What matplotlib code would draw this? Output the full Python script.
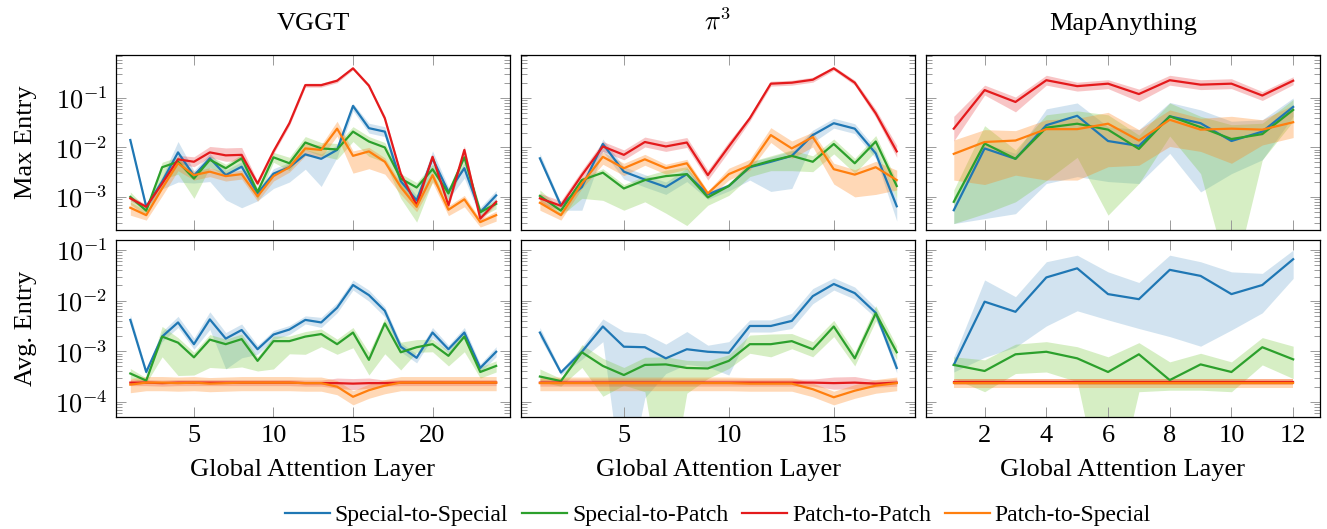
import matplotlib.pyplot as plt
import numpy as np
from matplotlib.ticker import FixedLocator, FuncFormatter, LogLocator, NullFormatter

plt.rcParams['font.family'] = ['Liberation Serif', 'DejaVu Serif']
plt.rcParams['mathtext.fontset'] = 'cm'

# series order: Special-to-Special, Special-to-Patch, Patch-to-Patch, Patch-to-Special
names = ['Special-to-Special', 'Special-to-Patch', 'Patch-to-Patch', 'Patch-to-Special']
line_colors = ['#1f77b4', '#2ca02c', '#e41a1c', '#ff7f0e']
fill_colors = ['#1f77b4', '#78c83c', '#e41a1c', '#ff7f0e']
fill_alpha = [0.2, 0.3, 0.25, 0.3]

vggt_layers = list(range(1, 25))
pi3_layers = list(range(1, 19))
mapany_layers = list(range(1, 13))

# all values are log10 of the entry; *_up / *_dn = band width above / below the line (decades)
# ---- VGGT, max entry
vggt_max_ss = [-1.85, -3.20, -2.69, -2.10, -2.57, -2.22, -2.56, -2.39, -2.93, -2.53, -2.40, -2.14,
               -2.23, -2.05, -1.16, -1.61, -1.68, -2.68, -3.07, -2.22, -2.90, -2.42, -3.31, -2.97]
vggt_max_ss_up = [0.02, 0.05, 0.1, 0.22, 0.1, 0.1, 0.1, 0.1, 0.05, 0.1, 0.1, 0.1,
                  0.1, 0.1, 0.05, 0.1, 0.1, 0.1, 0.1, 0.15, 0.1, 0.1, 0.1, 0.1]
vggt_max_ss_dn = [0.02, 0.05, 0.15, 0.6, 0.15, 0.47, 0.5, 0.83, 0.15, 0.3, 0.3, 0.3,
                  0.56, 0.15, 0.1, 0.1, 0.1, 0.15, 0.1, 0.25, 0.15, 0.2, 0.1, 0.15]
vggt_max_sp = [-3.00, -3.28, -2.40, -2.29, -2.63, -2.25, -2.42, -2.22, -2.90, -2.20, -2.32, -1.90,
               -2.02, -2.04, -1.68, -1.88, -2.00, -2.63, -2.81, -2.44, -2.93, -2.20, -3.31, -3.14]
vggt_max_sp_up = [0.1, 0.05, 0.1, 0.1, 0.1, 0.08, 0.08, 0.08, 0.08, 0.1, 0.12, 0.12,
                  0.12, 0.12, 0.1, 0.1, 0.1, 0.1, 0.1, 0.1, 0.1, 0.1, 0.08, 0.08]
vggt_max_sp_dn = [0.15, 0.1, 0.25, 0.25, 0.4, 0.15, 0.15, 0.15, 0.15, 0.1, 0.15, 0.15,
                  0.15, 0.2, 0.2, 0.3, 0.3, 0.4, 0.7, 0.25, 0.15, 0.15, 0.1, 0.1]
vggt_max_pp = [-3.03, -3.20, -2.73, -2.24, -2.29, -2.10, -2.16, -2.15, -2.73, -2.08, -1.51, -0.74,
               -0.74, -0.65, -0.40, -0.75, -1.41, -2.53, -3.17, -2.19, -3.17, -2.05, -3.44, -3.10]
vggt_max_pp_up = [0.05, 0.05, 0.05, 0.08, 0.1, 0.12, 0.15, 0.15, 0.05, 0.05, 0.05, 0.04,
                  0.04, 0.04, 0.03, 0.04, 0.05, 0.05, 0.05, 0.05, 0.05, 0.08, 0.05, 0.05]
vggt_max_pp_dn = [0.05, 0.05, 0.05, 0.08, 0.1, 0.1, 0.12, 0.12, 0.05, 0.05, 0.05, 0.04,
                  0.04, 0.04, 0.03, 0.04, 0.05, 0.05, 0.05, 0.05, 0.05, 0.08, 0.05, 0.05]
vggt_max_ps = [-3.22, -3.37, -2.83, -2.32, -2.56, -2.49, -2.58, -2.54, -2.99, -2.58, -2.40, -2.02,
               -2.05, -1.62, -2.17, -2.08, -2.29, -2.80, -3.20, -2.56, -3.26, -3.05, -3.51, -3.37]
vggt_max_ps_up = [0.12, 0.08, 0.1, 0.1, 0.08, 0.08, 0.08, 0.08, 0.08, 0.08, 0.08, 0.1,
                  0.1, 0.15, 0.1, 0.08, 0.08, 0.08, 0.08, 0.08, 0.08, 0.08, 0.06, 0.08]
vggt_max_ps_dn = [0.15, 0.1, 0.15, 0.15, 0.1, 0.1, 0.1, 0.1, 0.1, 0.1, 0.1, 0.15,
                  0.15, 0.15, 0.35, 0.35, 0.25, 0.15, 0.1, 0.15, 0.12, 0.15, 0.1, 0.12]

# ---- VGGT, avg entry
vggt_avg_ss = [-2.38, -3.41, -2.71, -2.43, -2.86, -2.37, -2.75, -2.58, -2.96, -2.67, -2.57, -2.38,
               -2.43, -2.14, -1.69, -1.89, -2.20, -2.91, -3.13, -2.63, -2.96, -2.63, -3.33, -3.01]
vggt_avg_ss_up = [0.1, 0.05, 0.1, 0.12, 0.12, 0.15, 0.12, 0.12, 0.08, 0.08, 0.08, 0.08,
                  0.1, 0.1, 0.1, 0.1, 0.08, 0.08, 0.08, 0.1, 0.08, 0.1, 0.08, 0.1]
vggt_avg_ss_dn = [0.05, 0.05, 0.1, 0.1, 0.1, 0.2, 0.6, 0.55, 0.1, 0.1, 0.1, 0.08,
                  0.1, 0.1, 0.1, 0.12, 0.12, 0.1, 0.1, 0.1, 0.08, 0.1, 0.08, 0.1]
vggt_avg_sp = [-3.44, -3.58, -2.71, -2.83, -3.12, -2.77, -2.86, -2.76, -3.19, -2.80, -2.80, -2.71,
               -2.66, -2.86, -2.63, -3.17, -2.45, -3.02, -2.92, -2.86, -3.09, -2.71, -3.41, -3.29]
vggt_avg_sp_up = [0.1, 0.05, 0.2, 0.1, 0.1, 0.1, 0.1, 0.1, 0.08, 0.1, 0.1, 0.1,
                  0.1, 0.1, 0.1, 0.15, 0.1, 0.2, 0.15, 0.1, 0.1, 0.1, 0.1, 0.1]
vggt_avg_sp_dn = [0.1, 0.05, 0.4, 0.65, 0.35, 0.55, 0.48, 0.55, 0.2, 0.55, 0.25, 0.35,
                  0.25, 0.2, 0.3, 0.3, 0.6, 0.35, 0.1, 0.15, 0.2, 0.3, 0.12, 0.12]
vggt_avg_pp = [-3.62, -3.62, -3.63, -3.62, -3.62, -3.62, -3.62, -3.62, -3.62, -3.62, -3.62, -3.63,
               -3.63, -3.63, -3.64, -3.63, -3.63, -3.62, -3.62, -3.62, -3.62, -3.62, -3.62, -3.62]
vggt_avg_pp_up = [0.06, 0.06, 0.06, 0.06, 0.06, 0.06, 0.06, 0.06, 0.06, 0.06, 0.06, 0.06,
                  0.06, 0.1, 0.1, 0.1, 0.06, 0.06, 0.06, 0.06, 0.06, 0.06, 0.06, 0.06]
vggt_avg_pp_dn = [0.06, 0.06, 0.06, 0.06, 0.06, 0.06, 0.06, 0.06, 0.06, 0.06, 0.06, 0.06,
                  0.06, 0.1, 0.12, 0.1, 0.06, 0.06, 0.06, 0.06, 0.06, 0.06, 0.06, 0.06]
vggt_avg_ps = [-3.66, -3.62, -3.62, -3.63, -3.62, -3.64, -3.63, -3.62, -3.62, -3.62, -3.62, -3.63,
               -3.63, -3.70, -3.90, -3.77, -3.68, -3.62, -3.62, -3.62, -3.62, -3.62, -3.62, -3.62]
vggt_avg_ps_up = [0.12, 0.12, 0.12, 0.12, 0.12, 0.12, 0.12, 0.12, 0.12, 0.12, 0.12, 0.12,
                  0.12, 0.12, 0.12, 0.12, 0.12, 0.12, 0.12, 0.12, 0.12, 0.12, 0.12, 0.12]
vggt_avg_ps_dn = [0.16, 0.16, 0.16, 0.16, 0.16, 0.16, 0.16, 0.16, 0.16, 0.16, 0.16, 0.16,
                  0.16, 0.16, 0.16, 0.16, 0.16, 0.16, 0.16, 0.16, 0.16, 0.16, 0.16, 0.16]

# ---- pi^3, max entry
pi3_max_ss = [-2.22, -3.17, -2.80, -1.93, -2.49, -2.65, -2.80, -2.54, -2.95, -2.78, -2.40, -2.29,
              -2.17, -1.75, -1.51, -1.62, -2.12, -3.19]
pi3_max_ss_up = [0.1, 0.05, 0.05, 0.1, 0.1, 0.1, 0.1, 0.12, 0.05, 0.05, 0.1, 0.1, 0.1, 0.1, 0.1, 0.1, 0.1, 0.15]
pi3_max_ss_dn = [0.05, 0.1, 0.47, 0.15, 0.15, 0.15, 0.15, 0.15, 0.1, 0.1, 0.26, 0.6, 0.66, 0.15, 0.1, 0.1, 0.1, 0.3]
pi3_max_sp = [-2.98, -3.28, -2.66, -2.51, -2.83, -2.66, -2.58, -2.54, -3.01, -2.78, -2.39, -2.27,
              -2.17, -2.29, -1.93, -2.32, -1.88, -2.78]
pi3_max_sp_up = [0.12, 0.05, 0.05, 0.08, 0.08, 0.08, 0.12, 0.15, 0.05, 0.05, 0.1, 0.1, 0.12, 0.12, 0.1, 0.1, 0.12, 0.1]
pi3_max_sp_dn = [0.1, 0.1, 0.37, 0.56, 0.44, 0.44, 0.75, 1.04, 0.16, 0.19, 0.2, 0.2, 0.3, 0.2, 0.2, 0.2, 0.2, 0.25]
pi3_max_pp = [-3.03, -3.18, -2.56, -1.98, -2.15, -1.89, -1.98, -1.90, -2.56, -1.98, -1.41, -0.71,
              -0.69, -0.63, -0.40, -0.69, -1.31, -2.08]
pi3_max_pp_up = [0.1, 0.1, 0.1, 0.1, 0.1, 0.1, 0.1, 0.1, 0.1, 0.1, 0.06, 0.05, 0.05, 0.05, 0.04, 0.05, 0.08, 0.12]
pi3_max_pp_dn = [0.1, 0.1, 0.1, 0.1, 0.1, 0.1, 0.1, 0.1, 0.1, 0.1, 0.06, 0.05, 0.05, 0.05, 0.04, 0.05, 0.08, 0.12]
pi3_max_ps = [-3.12, -3.37, -2.73, -2.19, -2.42, -2.24, -2.42, -2.32, -2.93, -2.54, -2.36, -1.75,
              -2.02, -1.79, -2.44, -2.55, -2.40, -2.66]
pi3_max_ps_up = [0.08, 0.05, 0.08, 0.1, 0.1, 0.1, 0.08, 0.08, 0.05, 0.12, 0.12, 0.15, 0.15, 0.1, 0.12, 0.1, 0.12, 0.2]
pi3_max_ps_dn = [0.15, 0.1, 0.1, 0.15, 0.15, 0.12, 0.12, 0.12, 0.1, 0.12, 0.1, 0.15, 0.2, 0.2, 0.3, 0.45, 0.55, 0.2]

# ---- pi^3, avg entry
pi3_avg_ss = [-2.63, -3.42, -3.01, -2.51, -2.91, -2.92, -3.14, -2.96, -3.01, -3.03, -2.50, -2.50,
              -2.40, -1.91, -1.67, -1.85, -2.24, -3.33]
pi3_avg_ss_up = [0.1, 0.05, 0.1, 0.15, 0.3, 0.27, 0.28, 0.35, 0.13, 0.22, 0.12, 0.12, 0.15, 0.15, 0.12, 0.12, 0.1, 0.1]
pi3_avg_ss_dn = [0.1, 0.05, 0.15, 0.3, 3.0, 1.0, 0.3, 0.3, 0.3, 0.44, 0.12, 0.12, 0.15, 0.15, 0.12, 0.12, 0.1, 0.1]
pi3_avg_sp = [-3.50, -3.59, -3.02, -3.29, -3.47, -3.27, -3.26, -3.33, -3.34, -3.19, -2.86, -2.86,
              -2.80, -2.96, -2.51, -3.14, -2.25, -3.02]
pi3_avg_sp_up = [0.15, 0.05, 0.15, 0.15, 0.15, 0.15, 0.15, 0.15, 0.15, 0.12, 0.18, 0.2, 0.15, 0.15, 0.12, 0.12, 0.15, 0.12]
pi3_avg_sp_dn = [0.1, 0.1, 0.3, 0.6, 0.2, 0.53, 3.0, 0.5, 0.2, 0.15, 0.18, 0.25, 0.15, 0.15, 0.2, 0.15, 0.15, 0.15]
pi3_avg_pp = [-3.62, -3.62, -3.62, -3.62, -3.62, -3.62, -3.62, -3.62, -3.62, -3.62, -3.62, -3.62,
              -3.62, -3.62, -3.63, -3.62, -3.64, -3.62]
pi3_avg_pp_up = [0.07, 0.07, 0.07, 0.07, 0.07, 0.07, 0.07, 0.07, 0.07, 0.07, 0.07, 0.07, 0.07, 0.07, 0.12, 0.12, 0.07, 0.07]
pi3_avg_pp_dn = [0.07, 0.07, 0.07, 0.07, 0.07, 0.07, 0.07, 0.07, 0.07, 0.07, 0.07, 0.07, 0.07, 0.07, 0.12, 0.12, 0.07, 0.07]
pi3_avg_ps = [-3.63, -3.63, -3.63, -3.63, -3.63, -3.63, -3.63, -3.63, -3.63, -3.63, -3.64, -3.64,
              -3.64, -3.75, -3.91, -3.78, -3.68, -3.63]
pi3_avg_ps_up = [0.12, 0.12, 0.12, 0.12, 0.12, 0.12, 0.12, 0.12, 0.12, 0.12, 0.12, 0.12, 0.12, 0.12, 0.12, 0.12, 0.12, 0.12]
pi3_avg_ps_dn = [0.15, 0.15, 0.15, 0.15, 0.15, 0.15, 0.15, 0.15, 0.15, 0.15, 0.15, 0.15, 0.15, 0.15, 0.15, 0.15, 0.15, 0.15]

# ---- MapAnything, max entry
mapany_max_ss = [-3.27, -2.02, -2.23, -1.55, -1.36, -1.87, -1.97, -1.37, -1.51, -1.87, -1.68, -1.18]
mapany_max_ss_up = [0.27, 0.10, 0.11, 0.33, 0.26, 0.29, 0.33, 0.28, 0.27, 0.40, 0.24, 0.18]
mapany_max_ss_dn = [0.27, 1.42, 1.11, 1.18, 1.23, 0.82, 0.76, 0.75, 1.39, 0.66, 0.57, 0.19]
mapany_max_sp = [-3.10, -1.92, -2.23, -1.60, -1.52, -1.64, -2.03, -1.37, -1.59, -1.83, -1.73, -1.24]
mapany_max_sp_up = [0.24, 0.36, 0.18, 0.26, 0.26, 0.30, 0.28, 0.27, 0.22, 0.29, 0.22, 0.21]
mapany_max_sp_dn = [0.44, 1.42, 0.87, 1.07, 0.68, 1.73, 0.70, 0.40, 0.94, 3.0, 0.52, 0.23]
mapany_max_pp = [-1.62, -0.84, -1.08, -0.64, -0.76, -0.71, -0.92, -0.64, -0.73, -0.71, -0.95, -0.65]
mapany_max_pp_up = [0.25, 0.1, 0.1, 0.1, 0.08, 0.08, 0.1, 0.1, 0.1, 0.1, 0.08, 0.08]
mapany_max_pp_dn = [0.25, 0.1, 0.2, 0.1, 0.1, 0.1, 0.15, 0.1, 0.1, 0.1, 0.1, 0.08]
mapany_max_ps = [-2.13, -1.89, -1.86, -1.63, -1.63, -1.52, -1.86, -1.44, -1.64, -1.62, -1.64, -1.49]
mapany_max_ps_up = [0.28, 0.25, 0.20, 0.19, 0.22, 0.23, 0.22, 0.20, 0.23, 0.25, 0.20, 0.35]
mapany_max_ps_dn = [0.53, 0.86, 0.70, 1.03, 1.03, 0.87, 0.50, 0.54, 0.44, 0.70, 0.31, 0.31]

# ---- MapAnything, avg entry
mapany_avg_ss = [-3.27, -2.02, -2.22, -1.54, -1.36, -1.87, -1.97, -1.39, -1.51, -1.87, -1.69, -1.18]
mapany_avg_ss_up = [0.16, 0.43, 0.30, 0.31, 0.26, 0.44, 0.33, 0.29, 0.28, 0.44, 0.23, 0.18]
mapany_avg_ss_dn = [0.14, 1.10, 0.70, 0.96, 0.84, 0.51, 0.58, 1.32, 1.39, 0.71, 0.55, 0.38]
mapany_avg_sp = [-3.27, -3.39, -3.06, -3.01, -3.14, -3.41, -3.06, -3.57, -3.26, -3.41, -2.92, -3.16]
mapany_avg_sp_up = [0.16, 0.22, 0.20, 0.20, 0.23, 0.30, 0.23, 0.36, 0.22, 0.20, 0.19, 0.26]
mapany_avg_sp_dn = [0.27, 0.41, 0.38, 0.40, 0.46, 3.0, 0.74, 0.20, 0.51, 0.39, 0.35, 0.38]
mapany_avg_pp = [-3.61, -3.61, -3.61, -3.61, -3.61, -3.61, -3.61, -3.61, -3.61, -3.61, -3.61, -3.61]
mapany_avg_pp_up = [0.06, 0.06, 0.06, 0.06, 0.06, 0.06, 0.06, 0.06, 0.06, 0.06, 0.06, 0.06]
mapany_avg_pp_dn = [0.06, 0.06, 0.06, 0.06, 0.06, 0.06, 0.06, 0.06, 0.06, 0.06, 0.06, 0.06]
mapany_avg_ps = [-3.62, -3.62, -3.62, -3.62, -3.62, -3.62, -3.62, -3.62, -3.62, -3.62, -3.62, -3.62]
mapany_avg_ps_up = [0.07, 0.07, 0.07, 0.07, 0.07, 0.07, 0.07, 0.07, 0.07, 0.07, 0.07, 0.07]
mapany_avg_ps_dn = [0.11, 0.11, 0.11, 0.11, 0.11, 0.11, 0.11, 0.11, 0.11, 0.11, 0.11, 0.11]

titles = ['VGGT', r'$\pi^3$', 'MapAnything']
row_labels = ['Max Entry', 'Avg. Entry']
xticks = [[5, 10, 15, 20], [5, 10, 15], [2, 4, 6, 8, 10, 12]]

panels = [
    [(vggt_layers, [(vggt_max_ss, vggt_max_ss_up, vggt_max_ss_dn), (vggt_max_sp, vggt_max_sp_up, vggt_max_sp_dn),
                    (vggt_max_pp, vggt_max_pp_up, vggt_max_pp_dn), (vggt_max_ps, vggt_max_ps_up, vggt_max_ps_dn)]),
     (pi3_layers, [(pi3_max_ss, pi3_max_ss_up, pi3_max_ss_dn), (pi3_max_sp, pi3_max_sp_up, pi3_max_sp_dn),
                   (pi3_max_pp, pi3_max_pp_up, pi3_max_pp_dn), (pi3_max_ps, pi3_max_ps_up, pi3_max_ps_dn)]),
     (mapany_layers, [(mapany_max_ss, mapany_max_ss_up, mapany_max_ss_dn), (mapany_max_sp, mapany_max_sp_up, mapany_max_sp_dn),
                      (mapany_max_pp, mapany_max_pp_up, mapany_max_pp_dn), (mapany_max_ps, mapany_max_ps_up, mapany_max_ps_dn)])],
    [(vggt_layers, [(vggt_avg_ss, vggt_avg_ss_up, vggt_avg_ss_dn), (vggt_avg_sp, vggt_avg_sp_up, vggt_avg_sp_dn),
                    (vggt_avg_pp, vggt_avg_pp_up, vggt_avg_pp_dn), (vggt_avg_ps, vggt_avg_ps_up, vggt_avg_ps_dn)]),
     (pi3_layers, [(pi3_avg_ss, pi3_avg_ss_up, pi3_avg_ss_dn), (pi3_avg_sp, pi3_avg_sp_up, pi3_avg_sp_dn),
                   (pi3_avg_pp, pi3_avg_pp_up, pi3_avg_pp_dn), (pi3_avg_ps, pi3_avg_ps_up, pi3_avg_ps_dn)]),
     (mapany_layers, [(mapany_avg_ss, mapany_avg_ss_up, mapany_avg_ss_dn), (mapany_avg_sp, mapany_avg_sp_up, mapany_avg_sp_dn),
                      (mapany_avg_pp, mapany_avg_pp_up, mapany_avg_pp_dn), (mapany_avg_ps, mapany_avg_ps_up, mapany_avg_ps_dn)])],
]

W, H = 1327, 529
fig = plt.figure(figsize=(W / 100, H / 100), dpi=100)

col_left = [116, 521, 926]
col_w = 394
row_top = [55, 240]
row_h = [175, 177]
ylims = [(10 ** -3.67, 10 ** -0.13), (10 ** -4.30, 10 ** -0.80)]

handles = []
for r in range(2):
    for c in range(3):
        ax = fig.add_axes([col_left[c] / W, 1 - (row_top[r] + row_h[r]) / H, col_w / W, row_h[r] / H])
        x, series = panels[r][c]
        for i, (vals, up, dn) in enumerate(series):
            v = np.array(vals)
            ax.fill_between(x, 10 ** (v - np.array(dn)), 10 ** (v + np.array(up)),
                            color=fill_colors[i], alpha=fill_alpha[i], lw=0)
        for i, (vals, up, dn) in enumerate(series):
            ln, = ax.plot(x, 10 ** np.array(vals), color=line_colors[i], lw=1.6, label=names[i])
            if r == 0 and c == 0:
                handles.append(ln)
        ax.set_yscale('log')
        ax.set_ylim(*ylims[r])
        ax.set_xlim(0.1, len(x) + 0.87)
        ax.xaxis.set_major_locator(FixedLocator(xticks[c]))
        ax.yaxis.set_major_locator(LogLocator(base=10, numticks=10))
        ax.yaxis.set_minor_locator(LogLocator(base=10, subs=np.arange(2, 10), numticks=20))
        ax.yaxis.set_minor_formatter(NullFormatter())
        ax.yaxis.set_major_formatter(FuncFormatter(lambda v, p: r'$10^{%d}$' % round(np.log10(v))))
        ax.tick_params(which='both', direction='in', top=True, right=True, color='#9a9a9a',
                       labelsize=19, width=0.7)
        ax.tick_params(which='major', length=7, pad=6)
        ax.tick_params(which='minor', length=4)
        for s in ax.spines.values():
            s.set_linewidth(0.9)
        if c > 0:
            ax.tick_params(labelleft=False)
        if r == 0:
            ax.tick_params(labelbottom=False)
            ax.set_title(titles[c], fontsize=19, pad=18)
        else:
            ax.set_xlabel('Global Attention Layer', fontsize=19)
            ax.xaxis.set_label_coords(0.5, -0.24)
        if c == 0:
            ax.set_ylabel(row_labels[r], fontsize=19)
            ax.yaxis.set_label_coords(-0.20, 0.5)

fig.legend(handles=handles, labels=names, loc='center', bbox_to_anchor=(718 / W, 14 / H), ncol=4,
           frameon=False, fontsize=17, handlelength=1.9, handletextpad=0.2, columnspacing=0.6)

fig.savefig('out.png', dpi=100)
